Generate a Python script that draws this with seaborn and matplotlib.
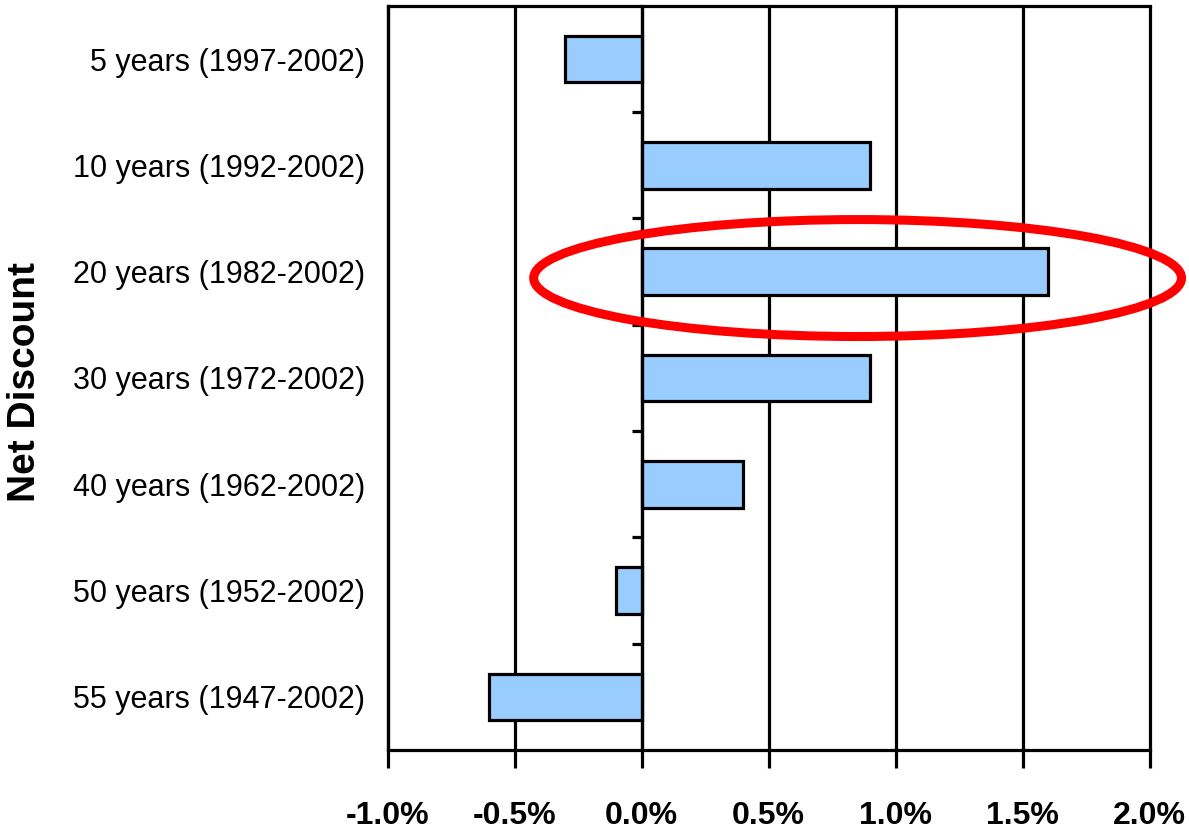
"""Net discount by holding period, horizontal bar chart."""

import matplotlib
matplotlib.use('Agg')
import matplotlib.pyplot as plt
import matplotlib.ticker as mticker
from matplotlib.patches import Ellipse
import seaborn as sns

# Data
periods = ['5 years (1997-2002)', '10 years (1992-2002)', '20 years (1982-2002)',
           '30 years (1972-2002)', '40 years (1962-2002)', '50 years (1952-2002)',
           '55 years (1947-2002)']
net_discount = [-0.3, 0.9, 1.6, 0.9, 0.4, -0.1, -0.6]   # percent
x_ticks = [-1.0, -0.5, 0.0, 0.5, 1.0, 1.5, 2.0]
highlight = '20 years (1982-2002)'

# Style
sns.set_style('white')
plt.rcParams['font.family'] = ['Liberation Sans', 'DejaVu Sans']
plt.rcParams['axes.unicode_minus'] = False
plt.rcParams['text.color'] = 'black'
plt.rcParams['axes.labelcolor'] = 'black'
plt.rcParams['xtick.color'] = 'black'
plt.rcParams['ytick.color'] = 'black'
BAR = '#99CCFF'
LW = 2.3

fig = plt.figure(figsize=(11.89, 8.39), dpi=100)
ax = fig.add_axes([0.326, 0.106, 0.641, 0.887])

sns.barplot(x=net_discount, y=periods, orient='h', color=BAR, edgecolor='black',
            linewidth=LW, width=0.44, saturation=1, ax=ax, zorder=3)

ax.set_xlim(x_ticks[0], x_ticks[-1])
ax.set_ylim(len(periods) - 0.5, -0.5)
ax.set_xticks(x_ticks)
ax.xaxis.set_major_formatter(mticker.PercentFormatter(xmax=100, decimals=1))
ax.grid(axis='x', color='black', linewidth=LW, zorder=1)
ax.grid(axis='y', visible=False)
for gl in ax.get_xgridlines():
    gl.set_clip_on(False)

# spines: left/top/bottom frame, right spine moved to zero as the category axis
for s in ['left', 'top', 'bottom']:
    ax.spines[s].set_visible(True)
    ax.spines[s].set_linewidth(LW)
    ax.spines[s].set_color('black')
ax.spines['right'].set_position(('data', 0))
ax.spines['right'].set_linewidth(LW)
ax.spines['right'].set_color('black')
ax.spines['right'].set_zorder(4)

ax.set_yticks([i + 0.5 for i in range(len(periods) - 1)], minor=True)
ax.tick_params(axis='y', which='major', left=False, right=False, length=0,
               labelsize=22, pad=16)
ax.tick_params(axis='y', which='minor', left=False, right=True, direction='in',
               length=7, width=LW)
ax.tick_params(axis='x', which='major', bottom=True, direction='out', length=13,
               width=LW, labelsize=23, pad=24)
for lab in ax.get_xticklabels():
    lab.set_fontweight('bold')

ax.set_xlabel('')
ax.set_ylabel('Net Discount', fontsize=28, fontweight='bold')
ax.yaxis.set_label_coords(-0.452, 0.495)

# red ellipse around the highlighted period
hi = periods.index(highlight)
ell = Ellipse((net_discount[hi] / 2 + 0.05, hi + 0.06), width=2.55, height=1.1,
              fill=False, edgecolor='#FF0000', linewidth=6.5, clip_on=False, zorder=5)
ax.add_patch(ell)

fig.savefig('out.png', dpi=100, facecolor='white')
